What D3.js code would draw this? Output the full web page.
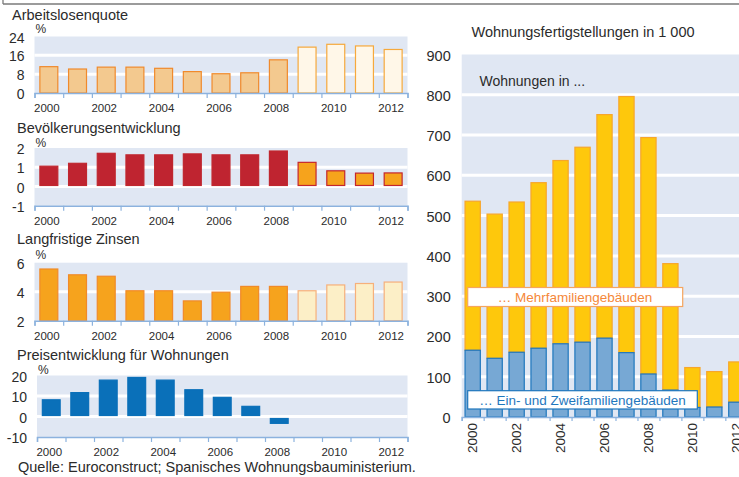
<!DOCTYPE html>
<html>
<head>
<meta charset="utf-8">
<script src="https://cdn.jsdelivr.net/npm/d3@7"></script>
<style>
  html, body { margin: 0; padding: 0; background: #fff; }
  svg { display: block; font-family: "Liberation Sans", Arial, sans-serif; }
</style>
</head>
<body>
<svg id="chart" width="739" height="477"></svg>
<script>
// ---------------- data ----------------
const years = ["2000","2001","2002","2003","2004","2005","2006","2007","2008","2009","2010","2011","2012"];
const yearLabels = ["2000","2002","2004","2006","2008","2010","2012"];
const forecastFrom = "2009";

const unemployment = [11.4, 10.4, 11.2, 11.2, 10.7, 9.3, 8.4, 8.8, 14.3, 19.7, 20.9, 20.2, 18.7];
const unemploymentTicks = [0, 8, 16, 24];

const population = [1.08, 1.23, 1.75, 1.67, 1.67, 1.72, 1.67, 1.67, 1.87, 1.28, 0.84, 0.72, 0.73];
const populationTicks = [-1, 0, 1, 2];

const interest = [5.6, 5.2, 5.1, 4.1, 4.1, 3.4, 4.0, 4.4, 4.4, 4.1, 4.5, 4.6, 4.7];
const interestTicks = [2, 4, 6];

const prices = [8.4, 11.9, 18.0, 19.3, 18.0, 13.3, 9.6, 5.2, -3.1, null, null, null, null];
const priceTicks = [-10, 0, 10, 20];

const singleFamily = [167, 147, 162, 172, 183, 187, 197, 161, 108, 68, 25, 26, 38];
const multiFamily = [370, 358, 373, 411, 455, 484, 555, 636, 587, 314, 99, 88, 100];
const completionTicks = [0, 100, 200, 300, 400, 500, 600, 700, 800, 900];

// ---------------- drawing ----------------
const svg = d3.select("#chart");
const BG = "#e0e7f3";
const AXIS = "#8cb2de";
const TXT = "#2b2b2b";
const fmt = d => String(d);

// frame remnant at the top
svg.append("line").attr("x1", 3).attr("x2", 739).attr("y1", 4).attr("y2", 4)
  .attr("stroke", "#7a7a7a").attr("stroke-width", 1.3);
svg.append("line").attr("x1", 3).attr("x2", 3).attr("y1", 0).attr("y2", 4)
  .attr("stroke", "#7a7a7a").attr("stroke-width", 1.3);

function leftPanel(cfg) {
  const g = svg.append("g");
  const x = d3.scaleBand().domain(years).range([cfg.x0, 407.5]).paddingInner(0.34).paddingOuter(0.17);
  const xi = d3.scaleLinear().domain([0, years.length]).range([cfg.x0, 407.5]);
  const y = d3.scaleLinear().domain(cfg.domain).range([cfg.yBottom, cfg.yTop]);

  g.append("text").attr("x", cfg.titleX).attr("y", cfg.titleY).attr("fill", TXT)
    .attr("font-size", 14.5).text(cfg.title);
  g.append("text").attr("x", cfg.x0 + 1).attr("y", cfg.pctY).attr("fill", TXT)
    .attr("font-size", 12).text("%");

  g.append("rect").attr("x", cfg.x0).attr("y", y(cfg.domain[1]))
    .attr("width", 407.5 - cfg.x0).attr("height", y(cfg.domain[0]) - y(cfg.domain[1]))
    .attr("fill", BG);
  g.selectAll(".grid").data(cfg.grid).join("line")
    .attr("x1", cfg.x0).attr("x2", 407.5)
    .attr("y1", d => y(d)).attr("y2", d => y(d))
    .attr("stroke", "#fff").attr("stroke-width", 3);

  // y labels
  const ya = g.append("g").attr("transform", `translate(${cfg.x0 - 10},0)`)
    .call(d3.axisLeft(y).tickValues(cfg.ticks).tickFormat(fmt).tickSize(0).tickPadding(0));
  ya.select(".domain").remove();
  ya.selectAll("text").attr("font-size", 14).attr("fill", TXT)
    .attr("font-family", "Liberation Sans, Arial, sans-serif").attr("dy", "0.4em");

  // bars
  const data = years.map((yr, i) => ({ yr, v: cfg.values[i], fc: yr >= forecastFrom }))
    .filter(d => d.v !== null && d.v !== undefined);
  g.selectAll(".bar").data(data).join("rect")
    .attr("x", d => x(d.yr) + 0.5)
    .attr("width", x.bandwidth() - 1)
    .attr("y", d => y(Math.max(d.v, cfg.base)) + 0.5)
    .attr("height", d => Math.max(0, Math.abs(y(d.v) - y(cfg.base)) - (cfg.gap ? 1.5 : 0.5)))
    .attr("transform", d => (cfg.gap && d.v < 0) ? "translate(0,1.5)" : null)
    .attr("fill", d => d.fc ? cfg.fcFill : cfg.fill)
    .attr("stroke", d => d.fc ? cfg.fcStroke : cfg.stroke)
    .attr("stroke-width", 1.2);

  // x axis with ticks at band boundaries
  const xa = g.append("g").attr("transform", `translate(0,${cfg.yBottom})`)
    .call(d3.axisBottom(xi).tickValues(d3.range(years.length + 1))
      .tickSize(5).tickSizeOuter(5).tickFormat(""));
  xa.select(".domain").attr("stroke", AXIS).attr("stroke-width", 1.5);
  xa.selectAll(".tick line").attr("stroke", AXIS).attr("stroke-width", 1.2);

  g.selectAll(".yl").data(yearLabels).join("text")
    .attr("x", d => x(d) + x.bandwidth() / 2 - 2)
    .attr("y", cfg.yBottom + 19)
    .attr("text-anchor", "middle").attr("font-size", 11.5).attr("fill", TXT)
    .text(d => d);
}

leftPanel({
  title: "Arbeitslosenquote", titleX: 12, titleY: 19.5, pctY: 33,
  values: unemployment, ticks: unemploymentTicks, domain: [0, 24], grid: [8, 16], base: 0,
  x0: 34.5, yTop: 36.5, yBottom: 93,
  fill: "#f3c98f", stroke: "#f08a2c", fcFill: "#fff7e8", fcStroke: "#f6a93c"
});
leftPanel({
  title: "Bevölkerungsentwicklung", titleX: 17, titleY: 133, pctY: 146.5,
  values: population, ticks: populationTicks, domain: [-1, 2], grid: [0, 1], base: 0, gap: true,
  x0: 34.5, yTop: 148, yBottom: 205.7,
  fill: "#bf2430", stroke: "#c0272f", fcFill: "#f6a31c", fcStroke: "#c4262d"
});
leftPanel({
  title: "Langfristige Zinsen", titleX: 17, titleY: 243.5, pctY: 259,
  values: interest, ticks: interestTicks, domain: [2, 6], grid: [4], base: 2,
  x0: 34.5, yTop: 262.7, yBottom: 320.7,
  fill: "#f6a31d", stroke: "#f18a29", fcFill: "#fcefc7", fcStroke: "#f6b07b"
});
leftPanel({
  title: "Preisentwicklung für Wohnungen", titleX: 17, titleY: 360, pctY: 374,
  values: prices, ticks: priceTicks, domain: [-10, 20], grid: [0, 10], base: 0, gap: true,
  x0: 37, yTop: 375.5, yBottom: 437,
  fill: "#0a70b9", stroke: "#0a70b9", fcFill: "#0a70b9", fcStroke: "#0a70b9"
});

svg.append("text").attr("x", 18).attr("y", 472).attr("font-size", 14.5).attr("fill", TXT)
  .text("Quelle: Euroconstruct; Spanisches Wohnungsbauministerium.");

// ---------------- right panel ----------------
(function () {
  const g = svg.append("g");
  const x0 = 461.7, step = 21.97;
  const x1 = x0 + step * years.length;
  const x = d3.scaleBand().domain(years).range([x0, x1]).paddingInner(0.26).paddingOuter(0.13);
  const xi = d3.scaleLinear().domain([0, years.length]).range([x0, x1]);
  const y = d3.scaleLinear().domain([0, 900]).range([417, 54.5]);

  g.append("text").attr("x", 471.5).attr("y", 36.5).attr("font-size", 14.5).attr("fill", TXT)
    .text("Wohnungsfertigstellungen in 1 000");

  g.append("rect").attr("x", x0).attr("y", y(900)).attr("width", x1 - x0)
    .attr("height", y(0) - y(900)).attr("fill", BG);
  g.selectAll(".grid").data(completionTicks.filter(d => d > 0 && d < 900)).join("line")
    .attr("x1", x0).attr("x2", x1).attr("y1", d => y(d)).attr("y2", d => y(d))
    .attr("stroke", "#fff").attr("stroke-width", 3);

  const ya = g.append("g").attr("transform", `translate(${x0 - 11},0)`)
    .call(d3.axisLeft(y).tickValues(completionTicks).tickFormat(fmt).tickSize(0).tickPadding(0));
  ya.select(".domain").remove();
  ya.selectAll("text").attr("font-size", 14.5).attr("fill", TXT)
    .attr("font-family", "Liberation Sans, Arial, sans-serif").attr("dy", "0.38em");

  const stack = years.map((yr, i) => ({ yr, s: singleFamily[i], m: multiFamily[i] }));
  g.selectAll(".m").data(stack).join("rect")
    .attr("x", d => x(d.yr) + 0.5).attr("width", x.bandwidth() - 1)
    .attr("y", d => y(d.s + d.m) + 0.5).attr("height", d => y(d.s) - y(d.s + d.m))
    .attr("fill", "#fec80c").attr("stroke", "#f7a62b").attr("stroke-width", 1.2);
  g.selectAll(".s").data(stack).join("rect")
    .attr("x", d => x(d.yr) + 0.5).attr("width", x.bandwidth() - 1)
    .attr("y", d => y(d.s) + 0.5).attr("height", d => y(0) - y(d.s) - 0.5)
    .attr("fill", "#77a8d4").attr("stroke", "#1f77bd").attr("stroke-width", 1.2);

  const xa = g.append("g").attr("transform", `translate(0,${y(0)})`)
    .call(d3.axisBottom(xi).tickValues(d3.range(years.length + 1))
      .tickSize(4).tickSizeOuter(4).tickFormat(""));
  xa.select(".domain").attr("stroke", AXIS).attr("stroke-width", 1.5);
  xa.selectAll(".tick line").attr("stroke", AXIS).attr("stroke-width", 1.2);

  g.selectAll(".yl").data(yearLabels).join("text")
    .attr("transform", d => `translate(${x(d) + x.bandwidth() / 2 + 4.8},${y(0) + 6}) rotate(-90)`)
    .attr("text-anchor", "end").attr("font-size", 13.5).attr("fill", TXT)
    .text(d => d);

  g.append("text").attr("x", 479.5).attr("y", 86).attr("font-size", 14).attr("fill", TXT)
    .text("Wohnungen in ...");

  // legend boxes
  g.append("rect").attr("x", 467.7).attr("y", 287.5).attr("width", 215).attr("height", 19)
    .attr("fill", "#fff").attr("stroke", "#f6a55e").attr("stroke-width", 1.2);
  g.append("text").attr("x", 575).attr("y", 302).attr("text-anchor", "middle")
    .attr("font-size", 13.5).attr("fill", "#f5883a").text("… Mehrfamiliengebäuden");

  g.append("rect").attr("x", 467.7).attr("y", 390.7).attr("width", 229.6).attr("height", 18.3)
    .attr("fill", "#fff").attr("stroke", "#1f77bd").attr("stroke-width", 1.2);
  g.append("text").attr("x", 582.5).attr("y", 405).attr("text-anchor", "middle")
    .attr("font-size", 13.5).attr("fill", "#1f77bd").text("… Ein- und Zweifamiliengebäuden");
})();
</script>
</body>
</html>
